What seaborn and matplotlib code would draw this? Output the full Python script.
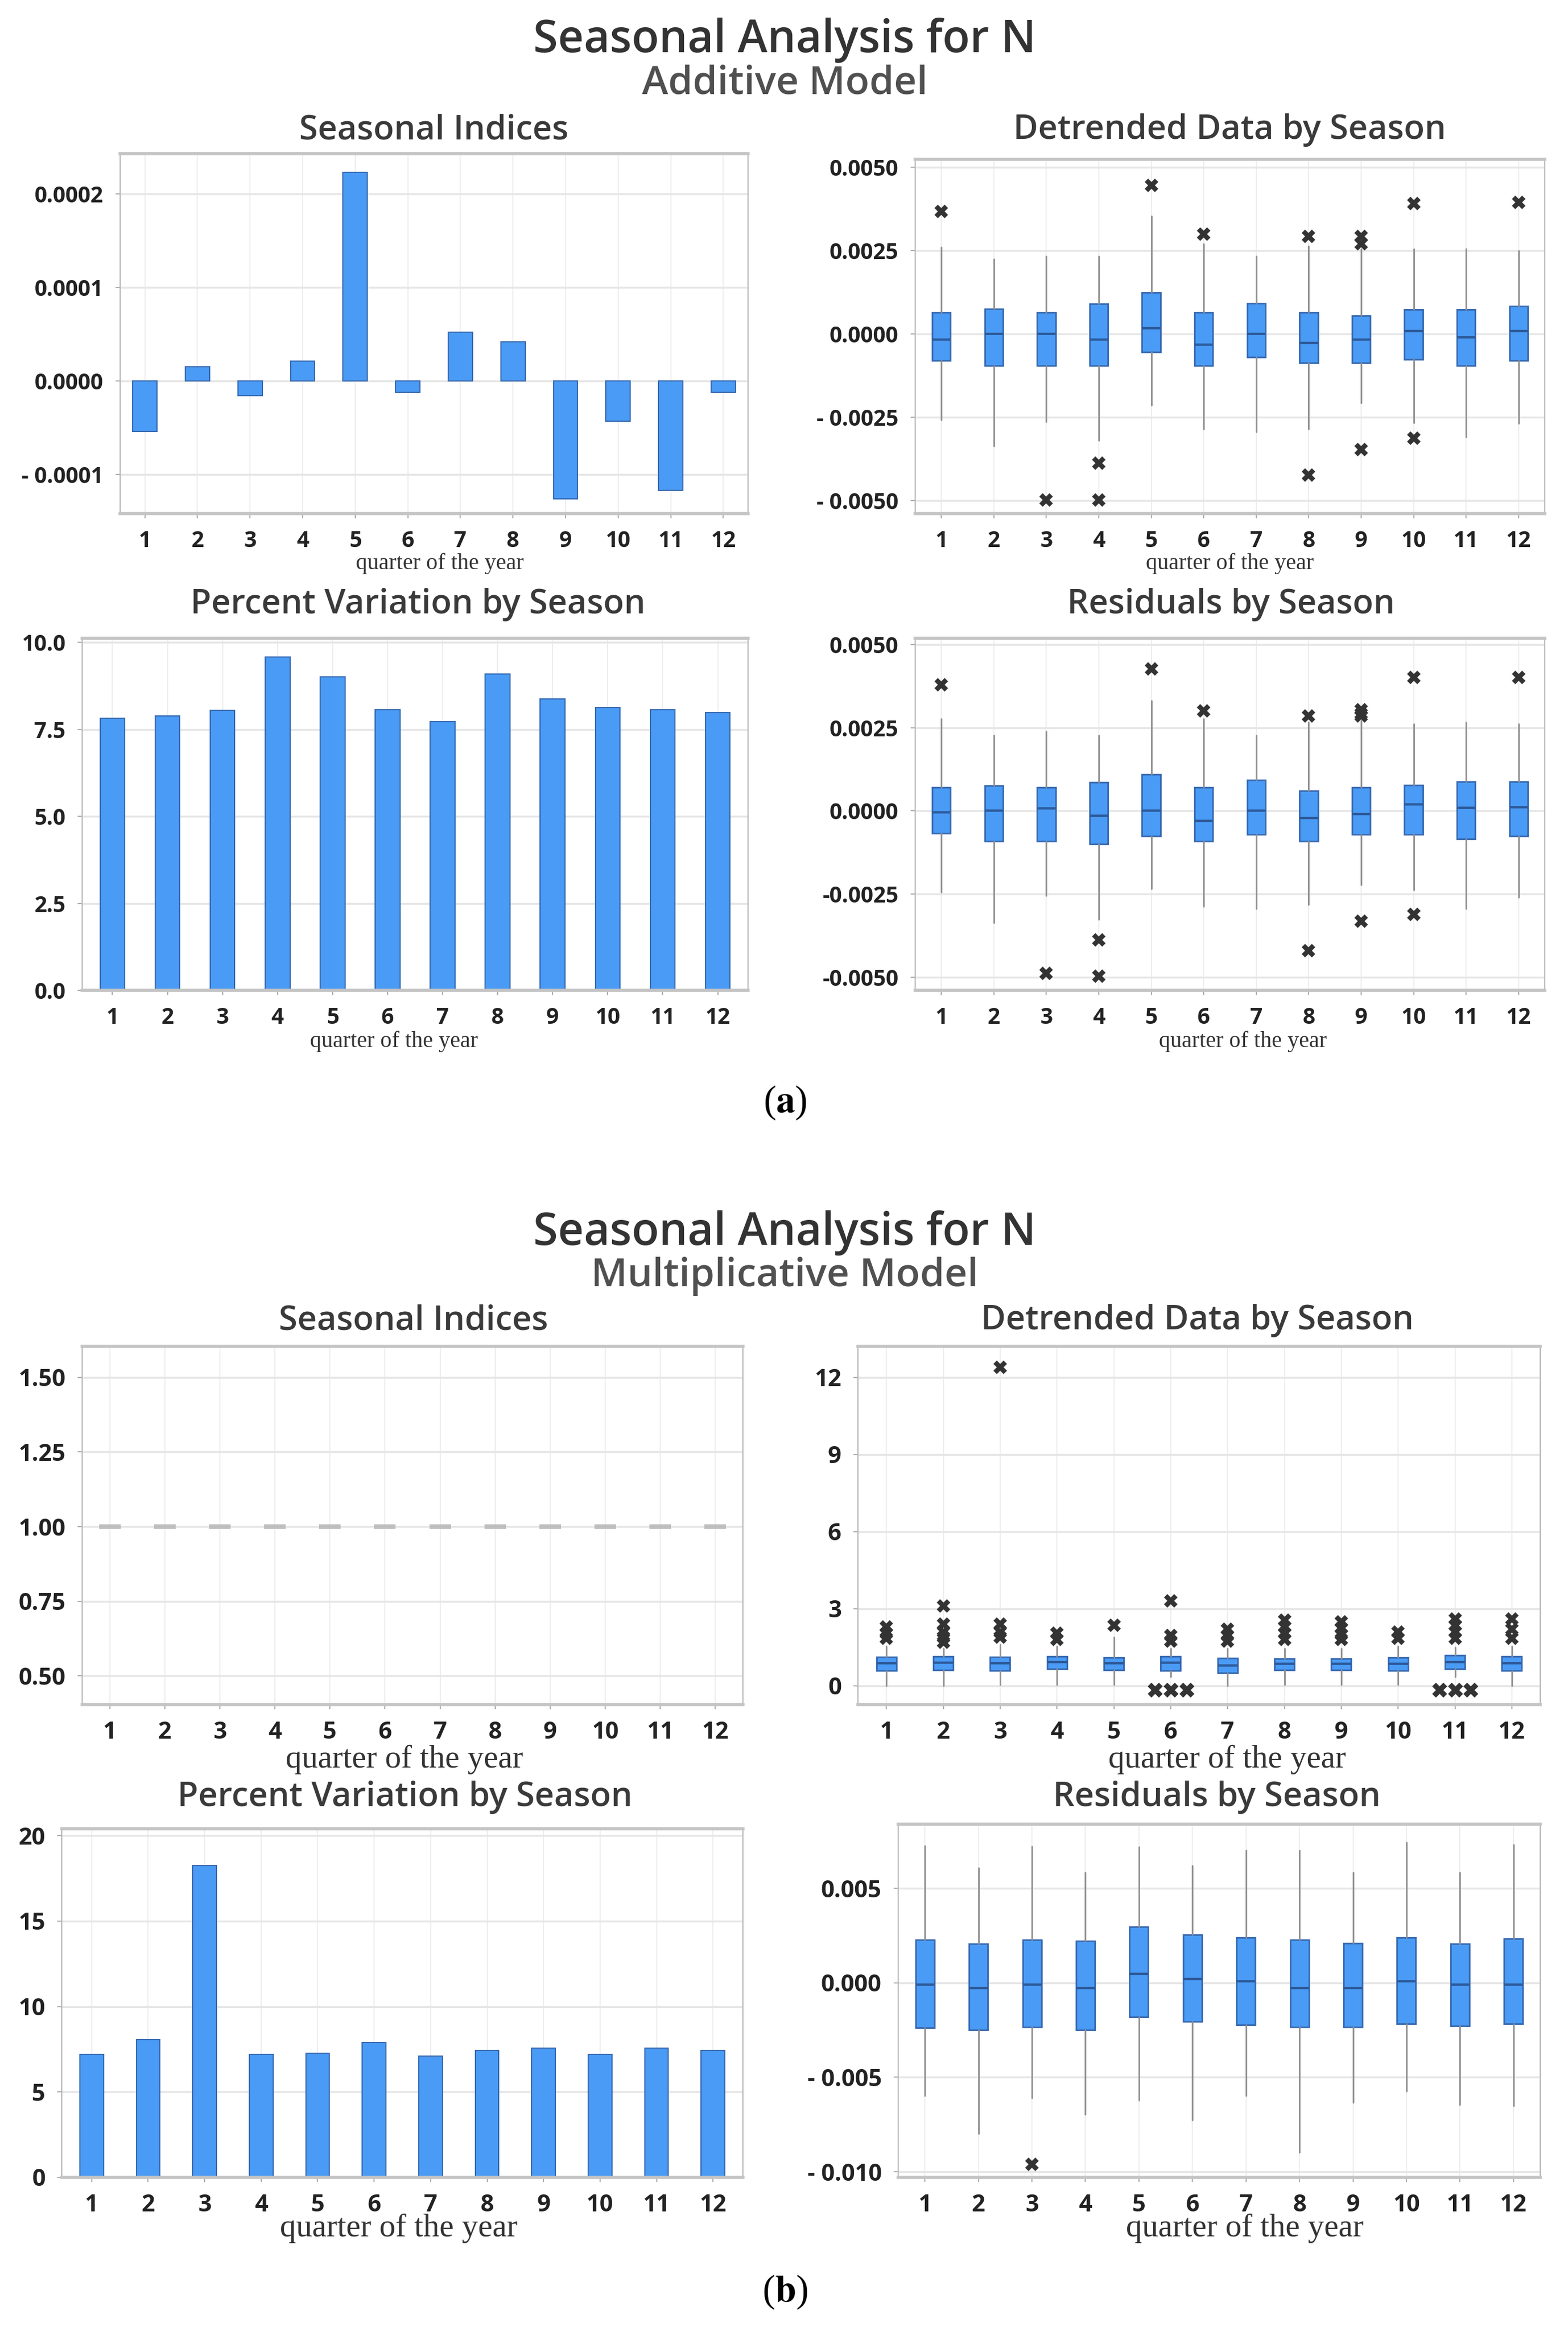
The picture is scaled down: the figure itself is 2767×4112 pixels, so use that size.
import numpy as np
import pandas as pd
import seaborn as sns
import matplotlib.pyplot as plt

W, H = 2767, 4112

quarters = [str(i) for i in range(1, 13)]

# (a) additive model
add_seasonal = [-0.000054, 0.000015, -0.000016, 0.000021, 0.000223, -0.000012,
                0.000052, 0.000042, -0.000126, -0.000043, -0.000117, -0.000012]
add_pct = [7.82, 7.89, 8.05, 9.58, 9.01, 8.07, 7.73, 9.09, 8.37, 8.14, 8.06, 7.98]

add_det_q1 = [-0.00080, -0.00095, -0.00095, -0.00095, -0.00054, -0.00095,
              -0.00070, -0.00087, -0.00086, -0.00077, -0.00095, -0.00079]
add_det_med = [-0.00017, 0.0, 0.0, -0.00017, 0.00017, -0.00033,
               0.0, -0.00027, -0.00017, 0.00009, -0.00010, 0.00008]
add_det_q3 = [0.00064, 0.00075, 0.00064, 0.00090, 0.00125, 0.00064,
              0.00092, 0.00064, 0.00055, 0.00073, 0.00073, 0.00083]
add_det_lo = [-0.00258, -0.00336, -0.00264, -0.00320, -0.00214, -0.00286,
              -0.00294, -0.00286, -0.00207, -0.00267, -0.00309, -0.00268]
add_det_hi = [0.00260, 0.00225, 0.00233, 0.00233, 0.00354, 0.00270,
              0.00233, 0.00263, 0.00255, 0.00255, 0.00255, 0.00251]
add_det_out = [[0.00367], [], [-0.00498], [-0.00387, -0.00498], [0.00446], [0.00299],
               [], [0.00292, -0.00423], [0.00293, 0.00270, -0.00347], [0.00392, -0.00313],
               [], [0.00394]]

add_res_q1 = [-0.00068, -0.00092, -0.00092, -0.00100, -0.00076, -0.00092,
              -0.00071, -0.00092, -0.00071, -0.00071, -0.00084, -0.00076]
add_res_med = [-0.00005, 0.0, 0.00008, -0.00014, 0.0, -0.00030,
               0.0, -0.00022, -0.00009, 0.00020, 0.00009, 0.00011]
add_res_q3 = [0.00071, 0.00076, 0.00071, 0.00086, 0.00109, 0.00071,
              0.00092, 0.00060, 0.00071, 0.00078, 0.00087, 0.00087]
add_res_lo = [-0.00245, -0.00337, -0.00255, -0.00326, -0.00234, -0.00288,
              -0.00294, -0.00283, -0.00223, -0.00239, -0.00294, -0.00261]
add_res_hi = [0.00277, 0.00228, 0.00239, 0.00228, 0.00332, 0.00277,
              0.00228, 0.00266, 0.00272, 0.00261, 0.00266, 0.00261]
add_res_out = [[0.00380], [], [-0.00489], [-0.00388, -0.00497], [0.00427], [0.00301],
               [], [0.00286, -0.00421], [0.00304, 0.00293, 0.00286, -0.00332],
               [0.00402, -0.00312], [], [0.00402]]

# (b) multiplicative model
mul_seasonal = [1.0, 1.0, 1.0, 1.0, 1.0, 1.0, 1.0, 1.0, 1.0, 1.0, 1.0, 1.0]
mul_pct = [7.2, 8.05, 18.26, 7.2, 7.25, 7.88, 7.1, 7.42, 7.56, 7.2, 7.56, 7.42]

mul_det_q1 = [0.60, 0.62, 0.60, 0.65, 0.62, 0.60, 0.50, 0.62, 0.62, 0.60, 0.65, 0.60]
mul_det_med = [0.88, 0.90, 0.88, 0.92, 0.88, 0.90, 0.80, 0.85, 0.85, 0.85, 0.92, 0.88]
mul_det_q3 = [1.12, 1.15, 1.12, 1.15, 1.10, 1.15, 1.08, 1.05, 1.05, 1.10, 1.18, 1.15]
mul_det_lo = [0.0, 0.0, 0.05, 0.05, 0.05, 0.35, 0.0, 0.05, 0.05, 0.05, 0.35, 0.0]
mul_det_hi = [1.55, 1.45, 1.60, 1.55, 1.90, 1.45, 1.45, 1.45, 1.45, 1.55, 1.50, 1.55]
mul_det_out = [[2.3, 2.05, 1.85], [3.1, 2.4, 2.1, 1.9, 1.7], [12.4, 2.4, 2.1, 1.9],
               [2.05, 1.8], [2.35], [3.3, 1.95, 1.75], [2.2, 1.95, 1.75],
               [2.55, 2.3, 2.05, 1.8], [2.5, 2.25, 2.0, 1.8], [2.1, 1.85],
               [2.6, 2.35, 2.1, 1.85], [2.6, 2.2, 1.85]]
# clumps of outliers sitting at zero (quarters 6 and 11)
mul_zero_q = ['6', '6', '6', '11', '11', '11']
mul_zero_v = [-0.15, -0.15, -0.15, -0.15, -0.15, -0.15]

mul_res_q1 = [-0.00237, -0.00249, -0.00234, -0.00249, -0.00181, -0.00206,
              -0.00222, -0.00234, -0.00234, -0.00218, -0.00230, -0.00218]
mul_res_med = [-0.0001, -0.00026, -0.0001, -0.00026, 0.00048, 0.00021,
               0.00009, -0.00026, -0.00026, 0.00009, -0.0001, -0.0001]
mul_res_q3 = [0.00229, 0.00207, 0.00229, 0.00223, 0.00297, 0.00256,
              0.00241, 0.00229, 0.00211, 0.00241, 0.00207, 0.00235]
mul_res_lo = [-0.00598, -0.00800, -0.00610, -0.00696, -0.00623, -0.00727,
              -0.00598, -0.00898, -0.00635, -0.00574, -0.00647, -0.00653]
mul_res_hi = [0.00726, 0.00609, 0.00722, 0.00585, 0.00720, 0.00621,
              0.00701, 0.00701, 0.00585, 0.00744, 0.00585, 0.00732]
mul_res_out = [[], [], [-0.0096], [], [], [], [], [], [], [], [], []]

BLUE = '#4a9bf5'
EDGE = '#3568b0'
DARK = '#333333'

sns.set_theme(style='whitegrid')
plt.rcParams['font.family'] = ['Open Sans', 'DejaVu Sans']
plt.rcParams['mathtext.fontset'] = 'stix'

fig = plt.figure(figsize=(W / 100, H / 100), dpi=100)
fig.patch.set_facecolor('white')


def add_ax(x0, y0, x1, y1):
    return fig.add_axes([x0 / W, 1 - y1 / H, (x1 - x0) / W, (y1 - y0) / H])


def ftext(x, y, s, **kw):
    fig.text(x / W, 1 - y / H, s, ha='center', va='baseline', **kw)


def box_stats(q1, med, q3, lo, hi, out):
    return [dict(q1=a, med=b, q3=c, whislo=d, whishi=e, fliers=f)
            for a, b, c, d, e, f in zip(q1, med, q3, lo, hi, out)]


def draw_box(ax, stats, width=0.35):
    ax.bxp(stats, positions=range(12), widths=width, patch_artist=True,
           showcaps=False, manage_ticks=False,
           boxprops=dict(facecolor=BLUE, edgecolor=EDGE, linewidth=2),
           medianprops=dict(color='#2d5a9a', linewidth=3),
           whiskerprops=dict(color='#8f8f8f', linewidth=2),
           flierprops=dict(marker='X', markerfacecolor=DARK, markeredgecolor=DARK,
                           markersize=17, markeredgewidth=0))


def style_ax(ax, ylim, yticks, ylabels, fs, xpad=0.5):
    ax.set_xlim(-xpad, 11 + xpad)
    ax.set_ylim(*ylim)
    ax.set_xticks(range(12), quarters, fontsize=fs, fontweight='bold', color='#222222')
    ax.set_yticks(yticks, ylabels, fontsize=fs, fontweight='bold', color='#222222')
    ax.set_xlabel('')
    ax.set_ylabel('')
    ax.grid(True, axis='y', color='#e6e6e6', linewidth=2.5)
    ax.grid(True, axis='x', color='#eeeeee', linewidth=1.5)
    ax.set_axisbelow(True)
    ax.set_facecolor('white')
    ax.tick_params(bottom=True, left=True, length=6, width=1.5, color='#b0b0b0', pad=15)
    for side in ['top', 'bottom']:
        ax.spines[side].set_color('#c4c4c4')
        ax.spines[side].set_linewidth(4)
    for side in ['left', 'right']:
        ax.spines[side].set_color('#b8b8b8')
        ax.spines[side].set_linewidth(1.5)


def fmt(v, dp, space=True):
    if v < 0:
        return ('- ' if space else '-') + f'{abs(v):.{dp}f}'
    return f'{v:.{dp}f}'


TITLE = dict(fontsize=43, color='#3a3a3a', fontweight='semibold')
XLAB_A = dict(fontsize=29, color='#333333', family='Liberation Serif')
XLAB_B = dict(fontsize=41, color='#333333', family='Liberation Serif')

# ---------------- (a) ----------------
ftext(1385, 92, 'Seasonal Analysis for N', fontsize=57, color='#333333', fontweight='semibold')
ftext(1385, 165, 'Additive Model', fontsize=50, color='#505050', fontweight='semibold')

ax = add_ax(212, 271, 1320, 906)
sns.barplot(x=quarters, y=add_seasonal, order=quarters, color=BLUE, saturation=1,
            width=0.46, edgecolor=EDGE, linewidth=1.5, errorbar=None, ax=ax)
yt = [-0.0001, 0.0, 0.0001, 0.0002]
style_ax(ax, (-0.000142, 0.000243), yt, [fmt(v, 4) for v in yt], 28, 0.47)
ftext(766, 245, 'Seasonal Indices', **TITLE)
ftext(776, 1004, 'quarter of the year', **XLAB_A)

ax = add_ax(1615, 281, 2726, 906)
draw_box(ax, box_stats(add_det_q1, add_det_med, add_det_q3, add_det_lo, add_det_hi, add_det_out))
yt = [-0.005, -0.0025, 0.0, 0.0025, 0.005]
style_ax(ax, (-0.00539, 0.00524), yt, [fmt(v, 4) for v in yt], 28)
ftext(2170, 245, 'Detrended Data by Season', **TITLE)
ftext(2170, 1004, 'quarter of the year', **XLAB_A)

ax = add_ax(145, 1126, 1320, 1747)
sns.barplot(x=quarters, y=add_pct, order=quarters, color=BLUE, saturation=1,
            width=0.45, edgecolor=EDGE, linewidth=1.5, errorbar=None, ax=ax)
yt = [0.0, 2.5, 5.0, 7.5, 10.0]
style_ax(ax, (0, 10.12), yt, [fmt(v, 1) for v in yt], 28, 0.55)
ftext(738, 1082, 'Percent Variation by Season', **TITLE)
ftext(695, 1847, 'quarter of the year', **XLAB_A)

ax = add_ax(1615, 1126, 2726, 1747)
draw_box(ax, box_stats(add_res_q1, add_res_med, add_res_q3, add_res_lo, add_res_hi, add_res_out))
yt = [-0.005, -0.0025, 0.0, 0.0025, 0.005]
style_ax(ax, (-0.0054, 0.00519), yt, [fmt(v, 4, False) for v in yt], 28)
ftext(2172, 1082, 'Residuals by Season', **TITLE)
ftext(2193, 1847, 'quarter of the year', **XLAB_A)

ftext(1385, 1962, r'($\mathbf{a}$)', fontsize=48, color='black', family='Liberation Serif')

# ---------------- (b) ----------------
ftext(1385, 2196, 'Seasonal Analysis for N', fontsize=57, color='#333333', fontweight='semibold')
ftext(1385, 2269, 'Multiplicative Model', fontsize=50, color='#505050', fontweight='semibold')

ax = add_ax(145, 2375, 1311, 3007)
bar_mark = [(-1, -0.2), (1, -0.2), (1, 0.2), (-1, 0.2)]
sns.scatterplot(x=quarters, y=mul_seasonal, marker=bar_mark, s=27 ** 2, color='#bdbdbd',
                linewidth=0, ax=ax)
yt = [0.5, 0.75, 1.0, 1.25, 1.5]
style_ax(ax, (0.404, 1.604), yt, [fmt(v, 2) for v in yt], 30)
ftext(730, 2345, 'Seasonal Indices', **TITLE)
ftext(714, 3118, 'quarter of the year', **XLAB_B)

ax = add_ax(1514, 2375, 2718, 3007)
draw_box(ax, box_stats(mul_det_q1, mul_det_med, mul_det_q3, mul_det_lo, mul_det_hi, mul_det_out))
sns.swarmplot(x=mul_zero_q, y=mul_zero_v, order=quarters, marker='X', color=DARK,
              size=19, linewidth=0, ax=ax)
yt = [0, 3, 6, 9, 12]
style_ax(ax, (-0.73, 13.21), yt, [str(v) for v in yt], 30)
ftext(2113, 2345, 'Detrended Data by Season', **TITLE)
ftext(2166, 3118, 'quarter of the year', **XLAB_B)

ax = add_ax(109, 3226, 1311, 3841)
sns.barplot(x=quarters, y=mul_pct, order=quarters, color=BLUE, saturation=1,
            width=0.42, edgecolor=EDGE, linewidth=1.5, errorbar=None, ax=ax)
yt = [0, 5, 10, 15, 20]
style_ax(ax, (0, 20.4), yt, [str(v) for v in yt], 30, 0.53)
ftext(715, 3186, 'Percent Variation by Season', **TITLE)
ftext(704, 3945, 'quarter of the year', **XLAB_B)

ax = add_ax(1585, 3218, 2718, 3841)
draw_box(ax, box_stats(mul_res_q1, mul_res_med, mul_res_q3, mul_res_lo, mul_res_hi, mul_res_out))
yt = [-0.01, -0.005, 0.0, 0.005]
style_ax(ax, (-0.0103, 0.0084), yt, [fmt(v, 3) for v in yt], 30)
ftext(2147, 3186, 'Residuals by Season', **TITLE)
ftext(2197, 3945, 'quarter of the year', **XLAB_B)

ftext(1385, 4060, r'($\mathbf{b}$)', fontsize=48, color='black', family='Liberation Serif')

fig.savefig('out.png', dpi=100, facecolor='white')
